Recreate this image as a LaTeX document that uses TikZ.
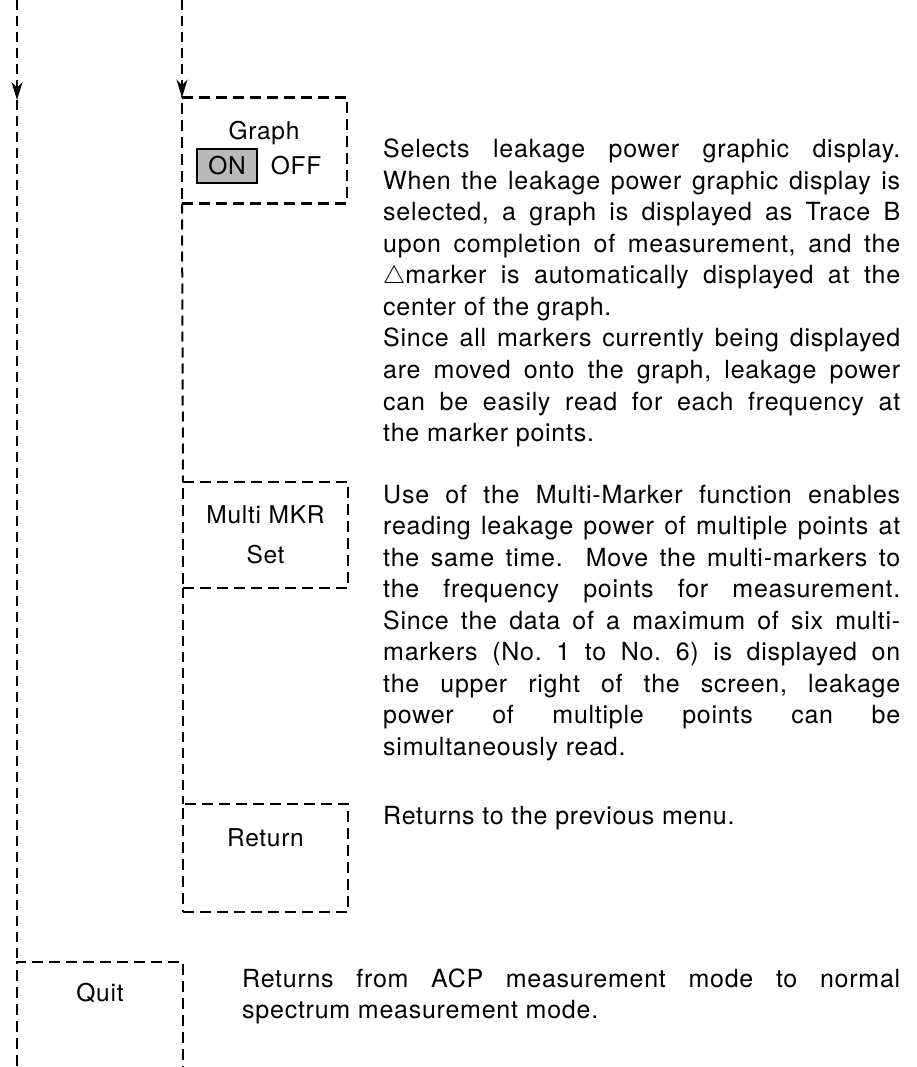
\documentclass[tikz,border=0pt]{standalone}
\usepackage{fontspec}
\setmainfont{TeX Gyre Heros}[LetterSpace=3]
\usetikzlibrary{arrows.meta}
\tolerance=10000
\hyphenpenalty=10000
\frenchspacing

\begin{document}
\begin{tikzpicture}[
    x=1pt, y=-1pt,
    flow/.style={line width=2pt, dash pattern=on 10pt off 6pt},
    menubox/.style={draw, line width=2.3pt, dash pattern=on 11pt off 6pt, minimum width=165pt, inner sep=0pt, outer sep=0pt},
    keylabel/.style={font=\fontsize{24.5}{40}\selectfont, inner sep=0pt, align=center},
    desc/.style={font=\fontsize{25}{31.5}\selectfont, text width=517pt, align=justify, inner sep=0pt, anchor=base west},
    arrow/.style={-{Stealth[length=18pt, width=11pt]}}
]
\clip (0,0) rectangle (917,1067);

% soft keys
\node[menubox, minimum height=106pt] (graph) at (264.5,150.5) {};
\node[keylabel] (graphlbl) at (264,133) {Graph};
\node[keylabel, draw, solid, line width=2.3pt, fill=gray!55, minimum width=60pt, minimum height=34pt] (on) at (227,166) {ON};
\node[keylabel] (off) at (296,166) {OFF};

\node[menubox, keylabel, minimum height=106pt] (multi) at (265.5,535) {Multi MKR\\Set};

\node[menubox, minimum height=108pt] (ret) at (265.5,858) {};
\node[keylabel] (retlbl) at (265.5,838) {Return};

\node[menubox, minimum width=166pt, minimum height=170pt] (quit) at (100,1047) {};
\node[keylabel] (quitlbl) at (100,993) {Quit};

% flow lines
\coordinate (top1) at (17,0);
\coordinate (tip1) at (17,100);
\coordinate (top2) at (182,0);
\draw[flow, arrow] (top1) -- (tip1);
\draw[flow] (tip1) -- (quit.north west);
\draw[flow, arrow] (top2) -- (graph.north west);
\draw[flow] (graph.south west) -- (multi.north west);
\draw[flow] (multi.south west) -- (ret.north west);

% descriptions
\node[desc] (graphtxt) at (383,158) {Selects leakage power graphic display.\linebreak
When the leakage power graphic display is\linebreak
selected, a graph is displayed as Trace B\linebreak
upon completion of measurement, and the\linebreak
$\triangle$marker is automatically displayed at the\linebreak
center of the graph.\par
Since all markers currently being displayed\linebreak
are moved onto the graph, leakage power\linebreak
can be easily read for each frequency at\linebreak
the marker points.};

\node[desc] (multitxt) at (383,503) {Use of the Multi-Marker function enables\linebreak
reading leakage power of multiple points at\linebreak
the same time.\ \ Move the multi-markers to\linebreak
the frequency points for measurement.\linebreak
Since the data of a maximum of six multi-\linebreak
markers (No. 1 to No. 6) is displayed on\linebreak
the upper right of the screen, leakage\linebreak
power of multiple points can be\linebreak
simultaneously read.};

\node[desc] (rettxt) at (383,824) {Returns to the previous menu.};

\node[desc, text width=658pt] (quittxt) at (242,987) {Returns from ACP measurement mode to normal\linebreak
spectrum measurement mode.};
\end{tikzpicture}
\end{document}
